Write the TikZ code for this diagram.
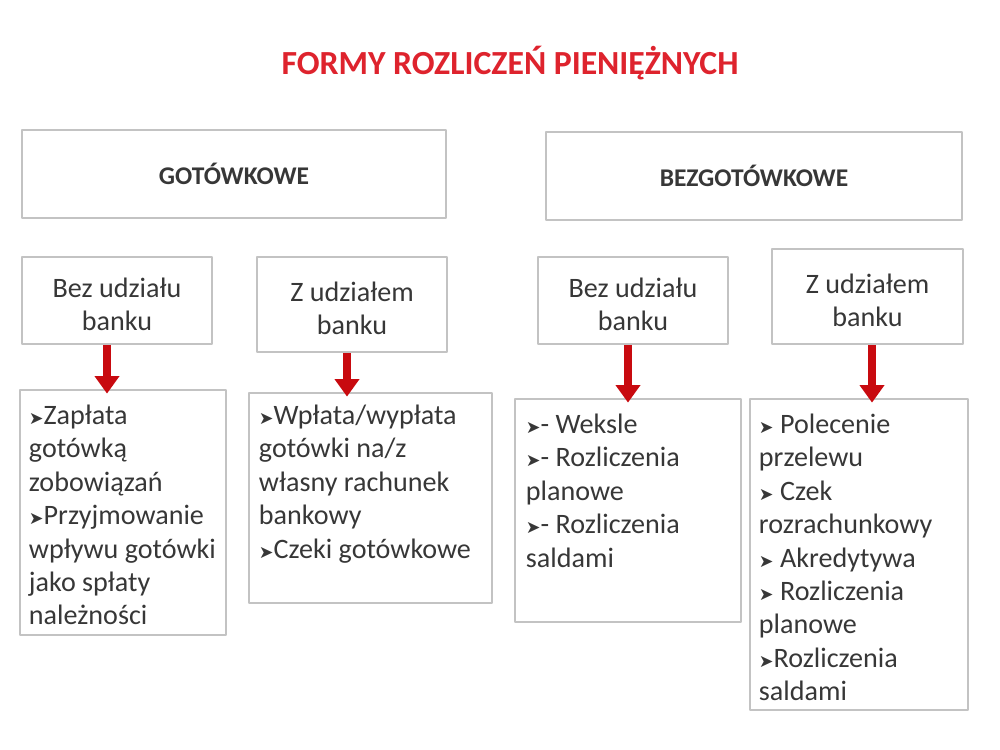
\documentclass[tikz,border=0pt]{standalone}
\usepackage{fontspec}
\setmainfont{Carlito}
\newfontfamily\symfont{DejaVu Sans}
\usepackage{tikz}
\usetikzlibrary{arrows.meta}
\definecolor{tytul}{RGB}{222,35,45}
\definecolor{ramka}{RGB}{195,195,195}
\definecolor{tekst}{RGB}{55,55,55}
\definecolor{strzalka}{RGB}{200,10,15}
\newcommand{\bul}{{\symfont\fontsize{10}{10}\selectfont ➤}}

\begin{document}
\begin{tikzpicture}[line cap=round,line join=round,>={Triangle[width=13.6pt,length=10pt]},x=0.02cm,y=-0.02cm,
  box/.style={draw=ramka,line width=1.6pt,inner sep=0pt,text=tekst,align=center,font=\fontsize{16}{19}\selectfont},
  headbox/.style={box,font=\fontsize{14.5}{17}\selectfont\bfseries},
  listtxt/.style={anchor=north west,inner sep=0pt,text=tekst,align=left,font=\fontsize{16}{19}\selectfont},
  redarr/.style={->,draw=strzalka,fill=strzalka,line width=5.1pt,line cap=butt,shorten >=-0.1cm}]
\useasboundingbox (0,0) rectangle (1000,750);
\node[text=tytul,font=\fontsize{19.2}{23}\selectfont\bfseries] (title) at (510,63) {FORMY ROZLICZEŃ PIENIĘŻNYCH};
\node[headbox,minimum width=8.48cm,minimum height=1.76cm] (got) at (234,174) {GOTÓWKOWE};
\node[headbox,minimum width=8.32cm,minimum height=1.76cm] (bezgot) at (754,176) {BEZGOTÓWKOWE};
\node[box,minimum width=3.8cm,minimum height=1.74cm] (b1) at (117,300.5) {\rule{0pt}{0.55cm}Bez udziału\\banku};
\node[box,minimum width=3.8cm,minimum height=1.9cm] (b2) at (352,304.5) {\rule{0pt}{0.55cm}Z udziałem\\banku};
\node[box,minimum width=3.8cm,minimum height=1.74cm] (b3) at (633,300.5) {\rule{0pt}{0.55cm}Bez udziału\\banku};
\node[box,minimum width=3.82cm,minimum height=1.9cm] (b4) at (867.5,296.5) {\rule{0pt}{0.55cm}Z udziałem\\banku};
\node[box,minimum width=4.12cm,minimum height=4.9cm] (l1) at (123,512.5) {};
\node[box,minimum width=4.86cm,minimum height=4.2cm] (l2) at (370.5,498) {};
\node[box,minimum width=4.52cm,minimum height=4.46cm] (l3) at (628,510.5) {};
\node[box,minimum width=4.36cm,minimum height=6.22cm] (l4) at (859,554.5) {};
\node[listtxt] (l1t) at ([shift={(10,16)}]l1.north west) {\bul Zapłata\\gotówką\\zobowiązań\\\bul Przyjmowanie\\wpływu gotówki\\jako spłaty\\należności};
\node[listtxt] (l2t) at ([shift={(11,13)}]l2.north west) {\bul Wpłata/wypłata\\gotówki na/z\\własny rachunek\\bankowy\\\bul Czeki gotówkowe};
\node[listtxt] (l3t) at ([shift={(12,16)}]l3.north west) {\bul- Weksle\\\bul- Rozliczenia\\planowe\\\bul- Rozliczenia\\saldami};
\node[listtxt] (l4t) at ([shift={(10,16)}]l4.north west) {\bul\ Polecenie\\przelewu\\\bul\ Czek\\rozrachunkowy\\\bul\ Akredytywa\\\bul\ Rozliczenia\\planowe\\\bul Rozliczenia\\saldami};
\draw[redarr] ([xshift=-0.2cm]b1.south) -- ([xshift=-0.2cm]b1.south |- l1.north);
\draw[redarr] ([xshift=-0.1cm]b2.south) -- ([xshift=-0.1cm]b2.south |- l2.north);
\draw[redarr] ([xshift=-0.1cm]b3.south) -- ([xshift=-0.1cm]b3.south |- l3.north);
\draw[redarr] ([xshift=0.09cm]b4.south) -- ([xshift=0.09cm]b4.south |- l4.north);
\end{tikzpicture}
\end{document}
